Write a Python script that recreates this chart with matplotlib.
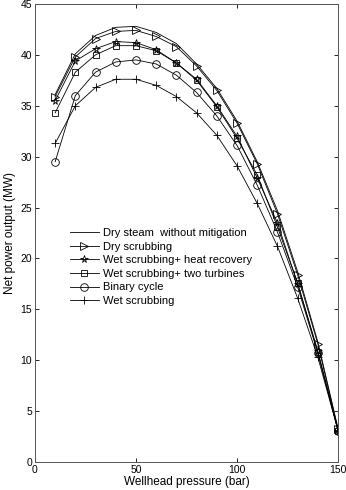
import numpy as np
import matplotlib
matplotlib.use('Agg')
import matplotlib.pyplot as plt

plt.rcParams['font.family'] = ['Liberation Sans', 'DejaVu Sans']

# 圧力 (bar)
pressure = [10, 20, 30, 40, 50, 60, 70, 80, 90, 100, 110, 120, 130, 140, 150]

# 出力 (MW)
dry_steam = [36.1, 40.1, 41.9, 42.7, 42.8, 42.2, 41.1, 39.1, 36.7, 33.5, 29.5, 24.7, 18.7, 11.8, 3.3]
dry_scrub = [35.9, 39.8, 41.6, 42.3, 42.4, 41.8, 40.8, 38.9, 36.5, 33.3, 29.3, 24.4, 18.4, 11.6, 3.2]
wet_heat = [35.5, 39.4, 40.6, 41.3, 41.2, 40.5, 39.2, 37.6, 35.0, 32.0, 27.9, 23.5, 17.5, 10.9, 3.1]
wet_two = [34.3, 38.3, 40.0, 40.9, 40.9, 40.4, 39.2, 37.5, 34.9, 31.8, 28.2, 23.1, 17.6, 10.8, 3.1]
binary = [29.5, 36.0, 38.3, 39.3, 39.5, 39.1, 38.0, 36.3, 34.0, 31.1, 27.2, 22.6, 17.2, 10.7, 3.1]
wet_scrub = [31.3, 35.0, 36.8, 37.6, 37.6, 37.0, 35.9, 34.3, 32.1, 29.1, 25.4, 21.2, 16.1, 10.3, 3.1]

labels = ['Dry steam  without mitigation', 'Dry scrubbing', 'Wet scrubbing+ heat recovery',
          'Wet scrubbing+ two turbines', 'Binary cycle', 'Wet scrubbing']

fig = plt.figure(figsize=(3.46, 4.9), dpi=100)
ax = fig.add_axes([0.101, 0.057, 0.876, 0.935])

lw = 0.6
ax.plot(pressure, dry_steam, 'k-', lw=lw, label=labels[0])
ax.plot(pressure, dry_scrub, 'k-', lw=lw, marker='>', ms=5.5, mfc='none', mew=0.6, label=labels[1])
ax.plot(pressure, wet_heat, 'k-', lw=lw, marker='*', ms=5.5, mfc='none', mew=0.6, label=labels[2])
ax.plot(pressure, wet_two, 'k-', lw=lw, marker='s', ms=4.5, mfc='none', mew=0.6, label=labels[3])
ax.plot(pressure, binary, 'k-', lw=lw, marker='o', ms=5.5, mfc='none', mew=0.6, label=labels[4])
ax.plot(pressure, wet_scrub, 'k-', lw=lw, marker='+', ms=5.5, mfc='none', mew=0.6, label=labels[5])

ax.set_xlim(0, 150)
ax.set_ylim(0, 45)
ax.set_xticks([0, 50, 100, 150])
ax.set_yticks(np.arange(0, 46, 5))
ax.tick_params(labelsize=7.5, width=0.6, length=3, direction='in', top=True, right=True, pad=2)
for s in ax.spines.values():
    s.set_linewidth(0.7)
    s.set_color('#555555')

ax.set_xlabel('Wellhead pressure (bar)', fontsize=8.5, labelpad=1)
ax.set_ylabel('Net power output (MW)', fontsize=8.5, labelpad=3)

ax.legend(loc='upper left', bbox_to_anchor=(0.1, 0.52), frameon=False, fontsize=8,
          handlelength=2.6, handletextpad=0.4, labelspacing=0.32, borderaxespad=0)

fig.savefig('out.png', dpi=100)
